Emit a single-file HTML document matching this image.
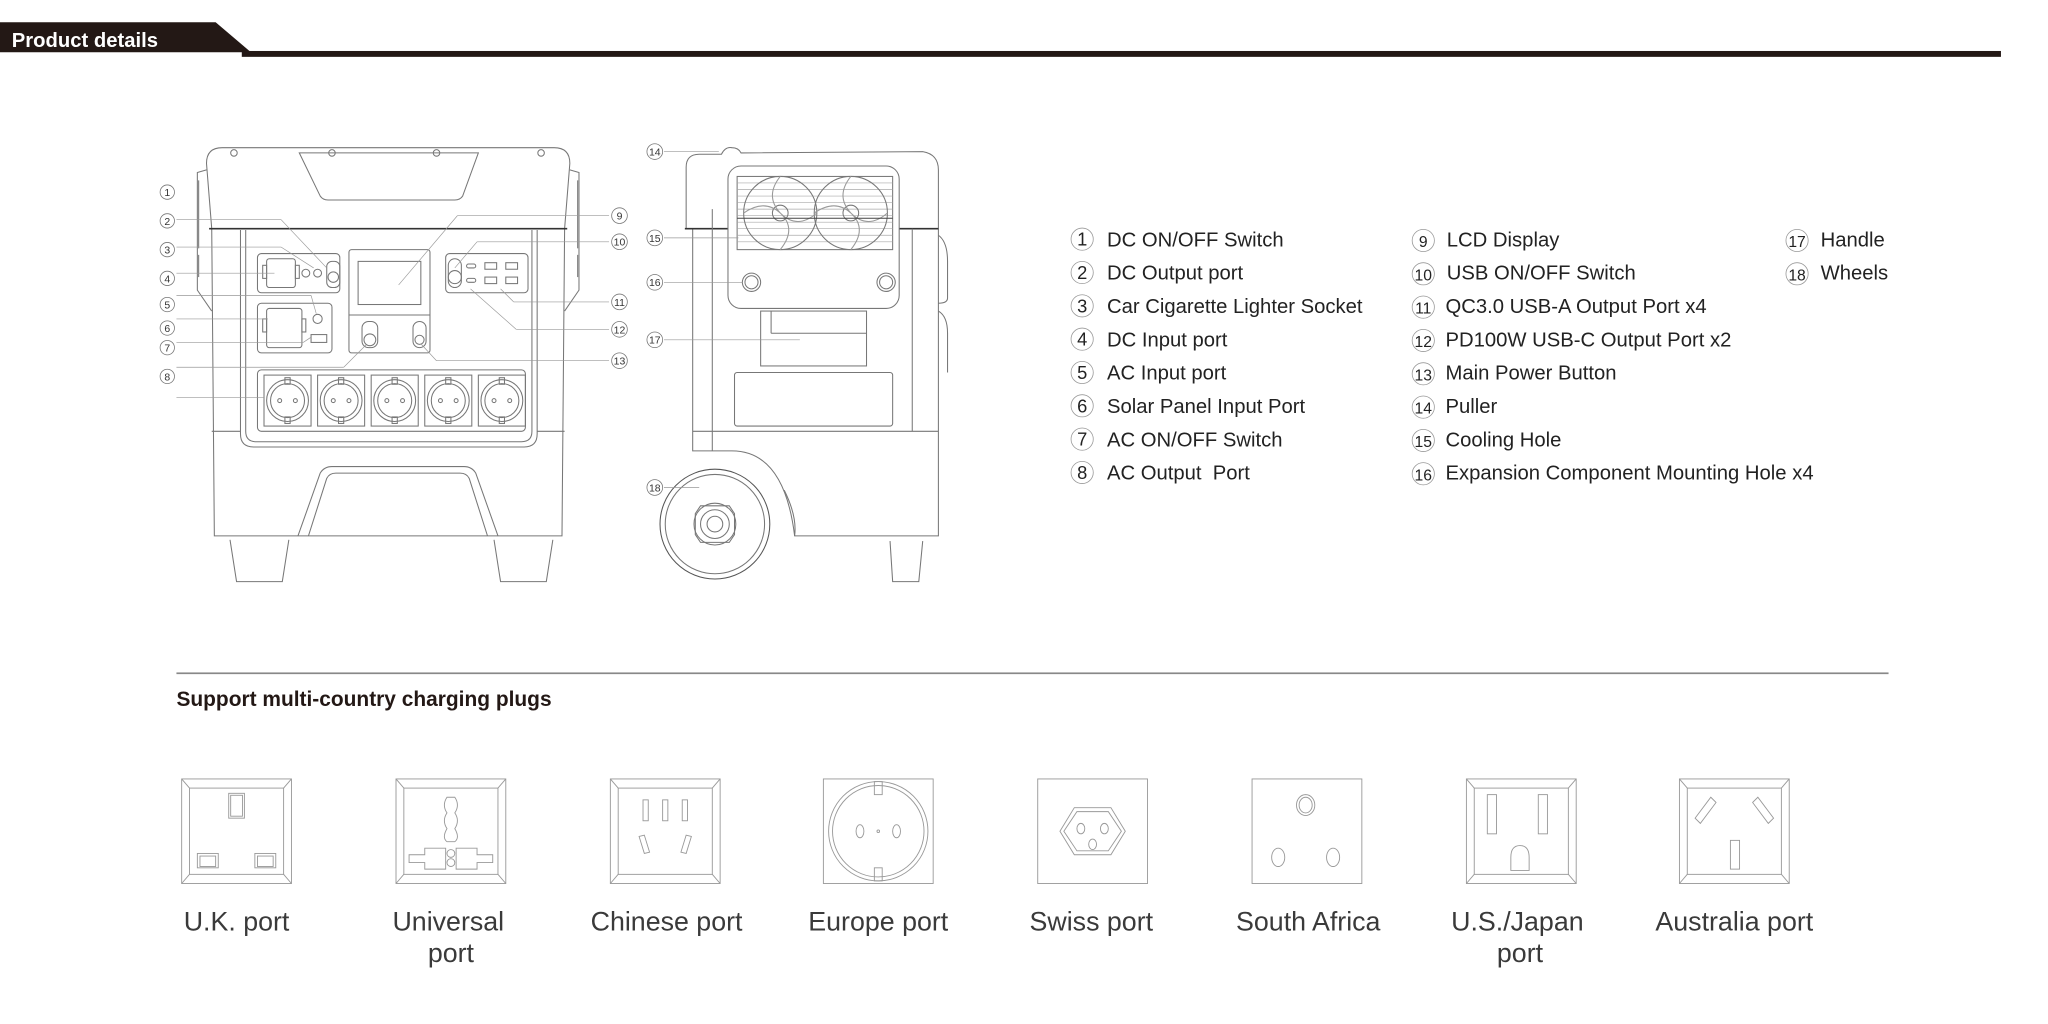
<!DOCTYPE html>
<html><head><meta charset="utf-8"><style>
html,body{margin:0;padding:0;background:#fff;}
svg{display:block;}
text{font-family:"Liberation Sans",sans-serif;}
</style></head><body>
<svg width="2048" height="1024" viewBox="0 0 1567 783.5" preserveAspectRatio="none" xmlns="http://www.w3.org/2000/svg">
<rect width="1567" height="784" fill="#fff"/>
<!-- header -->
<polygon points="0,17 165,17 192,40 0,40" fill="#231815"/>
<rect x="185" y="39" width="1346" height="4.5" fill="#231815"/>
<text x="9" y="36" font-size="15.5" font-weight="bold" fill="#fff">Product details</text>

<!-- FRONT VIEW -->
<g fill="none" stroke="#777" stroke-width="0.8">
  <path d="M162,175 L158,125 Q158,113 170,113 L424,113 Q436,113 436,125 L432,175 Z"/>
  <path d="M229,117 L366,117 L354,150 Q352,153 348,153 L251,153 Q247,153 245,150 Z"/>
  <circle cx="179" cy="117" r="2.5"/><circle cx="254" cy="117" r="2.5"/><circle cx="334" cy="117" r="2.5"/><circle cx="414" cy="117" r="2.5"/>
  <path d="M158,130 L151,132 L151,222 L162,238"/><line x1="152" y1="138" x2="152" y2="190"/>
  <path d="M436,130 L443,132 L443,222 L432,238"/><line x1="442" y1="138" x2="442" y2="190"/>
  <line x1="152" y1="195" x2="152" y2="212"/><line x1="442" y1="195" x2="442" y2="212"/>
  <path d="M162,175 L164,410 L430,410 L432,175"/>
  <line x1="160" y1="175" x2="434" y2="175" stroke="#333" stroke-width="1.2"/>
  <line x1="162" y1="330" x2="184" y2="330"/><line x1="411" y1="330" x2="432" y2="330"/>
  <path d="M184,176 L184,332 Q184,342 194,342 L401,342 Q411,342 411,332 L411,176"/>
  <path d="M188,176 L188,330 Q188,338 196,338 L399,338 Q407,338 407,330 L407,176"/>
  <path d="M228,410 L245,362 Q248,357 254,357 L355,357 Q361,357 364,362 L381,410"/>
  <path d="M236,410 L250,366 Q252,362 257,362 L352,362 Q357,362 359,366 L373,410"/>
  <path d="M176,413 L181,445 L216,445 L221,413"/>
  <path d="M378,413 L383,445 L418,445 L423,413"/>
  <rect x="197" y="194" width="63" height="30" rx="3"/>
  <rect x="204" y="198" width="22" height="22" rx="2"/><rect x="201" y="203" width="3" height="10"/><rect x="226" y="203" width="3" height="10"/>
  <circle cx="234" cy="209" r="3"/><circle cx="243" cy="209" r="3"/>
  <rect x="250" y="200" width="10" height="20" rx="4"/><circle cx="255" cy="212" r="4"/>
  <rect x="197" y="232" width="57" height="38" rx="3"/>
  <rect x="204" y="236" width="27" height="30" rx="2"/><rect x="201" y="244" width="3" height="10"/><rect x="231" y="244" width="3" height="10"/>
  <circle cx="243" cy="244" r="3.5"/><rect x="238" y="256" width="12" height="6"/>
  <rect x="267" y="191" width="62" height="79" rx="2"/>
  <line x1="267" y1="241" x2="329" y2="241"/>
  <rect x="274" y="200" width="48" height="33"/>
  <rect x="277" y="246" width="12" height="20" rx="5"/><circle cx="283" cy="260" r="4.5"/>
  <rect x="316" y="246" width="10" height="20" rx="5"/><circle cx="321" cy="260" r="3.5"/>
  <rect x="341" y="194" width="63" height="30" rx="3"/>
  <rect x="343" y="198" width="10" height="22" rx="5"/><circle cx="348" cy="212" r="5"/>
  <rect x="357" y="202" width="7" height="3" rx="1.5"/><rect x="357" y="213" width="7" height="3" rx="1.5"/>
  <rect x="371" y="201" width="9" height="5"/><rect x="387" y="201" width="9" height="5"/>
  <rect x="371" y="212" width="9" height="5"/><rect x="387" y="212" width="9" height="5"/>
  <rect x="197" y="283" width="205" height="47" rx="3"/>
  <g id="sk"><rect x="202" y="287" width="36" height="39"/><circle cx="220" cy="306.5" r="16"/><circle cx="220" cy="306.5" r="13"/><circle cx="214" cy="306.5" r="1.5"/><circle cx="226" cy="306.5" r="1.5"/><rect x="218" y="289" width="4" height="5"/><rect x="218" y="319" width="4" height="5"/></g>
  <use href="#sk" x="41"/><use href="#sk" x="82"/><use href="#sk" x="123"/><use href="#sk" x="164"/>
</g>
<g fill="none" stroke="#999" stroke-width="0.5">
  <line x1="135" y1="168" x2="215" y2="168"/><line x1="215" y1="168" x2="250" y2="205"/>
  <line x1="135" y1="189" x2="215" y2="189"/><line x1="215" y1="189" x2="240" y2="205"/>
  <line x1="135" y1="209" x2="210" y2="209"/>
  <line x1="135" y1="226" x2="238" y2="226"/><line x1="238" y1="226" x2="242" y2="240"/>
  <line x1="135" y1="244" x2="205" y2="244"/>
  <line x1="135" y1="262" x2="232" y2="262"/><line x1="232" y1="262" x2="238" y2="258"/>
  <line x1="135" y1="281" x2="263" y2="281"/><line x1="263" y1="281" x2="280" y2="264"/>
  <line x1="135" y1="304" x2="202" y2="304"/>
  <line x1="466" y1="165" x2="350" y2="165"/><line x1="350" y1="165" x2="305" y2="218"/>
  <line x1="466" y1="185" x2="365" y2="185"/><line x1="365" y1="185" x2="348" y2="205"/>
  <line x1="466" y1="231" x2="393" y2="231"/><line x1="393" y1="231" x2="383" y2="221"/>
  <line x1="466" y1="252" x2="395" y2="252"/><line x1="395" y1="252" x2="360" y2="221"/>
  <line x1="466" y1="276" x2="334" y2="276"/><line x1="334" y1="276" x2="322" y2="263"/>
</g>
<g font-size="8" fill="#333" text-anchor="middle">
  <g fill="none" stroke="#777" stroke-width="0.6">
    <circle cx="128" cy="147" r="5.5"/><circle cx="128" cy="169" r="5.5"/><circle cx="128" cy="191" r="5.5"/><circle cx="128" cy="213" r="5.5"/><circle cx="128" cy="233" r="5.5"/><circle cx="128" cy="251" r="5.5"/><circle cx="128" cy="266" r="5.5"/><circle cx="128" cy="288" r="5.5"/>
    <circle cx="474" cy="165" r="6"/><circle cx="474" cy="185" r="6"/><circle cx="474" cy="231" r="6"/><circle cx="474" cy="252" r="6"/><circle cx="474" cy="276" r="6"/>
    <circle cx="501" cy="116" r="6"/><circle cx="501" cy="182" r="6"/><circle cx="501" cy="216" r="6"/><circle cx="501" cy="260" r="6"/><circle cx="501" cy="373" r="6"/>
  </g>
  <text x="128" y="150">1</text><text x="128" y="172">2</text><text x="128" y="194">3</text><text x="128" y="216">4</text><text x="128" y="236">5</text><text x="128" y="254">6</text><text x="128" y="269">7</text><text x="128" y="291">8</text>
  <text x="474" y="168">9</text><text x="474" y="188">10</text><text x="474" y="234">11</text><text x="474" y="255">12</text><text x="474" y="279">13</text>
  <text x="501" y="119">14</text><text x="501" y="185">15</text><text x="501" y="219">16</text><text x="501" y="263">17</text><text x="501" y="376">18</text>
</g>

<!-- SIDE VIEW -->
<g fill="none" stroke="#777" stroke-width="0.8">
  <path d="M525,175 L525,128 Q525,118 535,118 L552,118 Q555,112 560,113 Q565,113 567,117 L706,116 Q718,118 718,130 L718,410 L608,410 Q600,345 560,345 L530,345 L530,175"/>
  <line x1="524" y1="175" x2="557" y2="175" stroke="#333" stroke-width="1.2"/>
  <line x1="688" y1="175" x2="718" y2="175" stroke="#333" stroke-width="1.2"/>
  <line x1="698" y1="175" x2="698" y2="330"/><line x1="530" y1="330" x2="718" y2="330"/>
  <line x1="545" y1="160" x2="545" y2="345"/>
  <path d="M718,180 Q725,185 725,200 L725,228 Q725,232 718,232"/>
  <path d="M718,238 Q725,242 725,255 L725,285"/>
  <rect x="557" y="127" width="131" height="109" rx="10"/>
  <rect x="564" y="135" width="119" height="56"/>
  <g stroke="#aaa" stroke-width="0.5">
    <line x1="564" y1="140" x2="683" y2="140"/><line x1="564" y1="145" x2="683" y2="145"/><line x1="564" y1="150" x2="683" y2="150"/><line x1="564" y1="155" x2="683" y2="155"/><line x1="564" y1="160" x2="683" y2="160"/><line x1="564" y1="165" x2="683" y2="165"/><line x1="564" y1="170" x2="683" y2="170"/><line x1="564" y1="175" x2="683" y2="175"/><line x1="564" y1="180" x2="683" y2="180"/><line x1="564" y1="185" x2="683" y2="185"/>
  </g>
  <circle cx="597" cy="163" r="28"/><circle cx="651" cy="163" r="28"/>
  <circle cx="597" cy="163" r="6"/><circle cx="651" cy="163" r="6"/>
  <path d="M597,135 Q585,150 597,163 Q610,175 597,191 M569,163 Q585,152 597,163 Q610,176 625,163" stroke="#999"/>
  <path d="M651,135 Q639,150 651,163 Q664,175 651,191 M623,163 Q639,152 651,163 Q664,176 679,163" stroke="#999"/>
  <line x1="564" y1="167" x2="683" y2="167" stroke="#444"/>
  <circle cx="575" cy="216" r="7"/><circle cx="575" cy="216" r="5"/>
  <circle cx="678" cy="216" r="7"/><circle cx="678" cy="216" r="5"/>
  <rect x="582" y="238" width="81" height="42"/><line x1="590" y1="238" x2="590" y2="255"/><line x1="590" y1="255" x2="663" y2="255"/>
  <rect x="562" y="285" width="121" height="41" rx="2"/>
  <path d="M608,410 Q610,395 600,375"/>
  <circle cx="547" cy="401" r="38"/><circle cx="547" cy="401" r="42" stroke="#555"/>
  <circle cx="547" cy="401" r="16"/><circle cx="547" cy="401" r="11"/><circle cx="547" cy="401" r="6"/>
  <path d="M536,387 L558,387 L562,393 L562,409 L558,415 L536,415 L532,409 L532,393 Z"/>
  <path d="M681,414 L683,445 L703,445 L706,414"/>
</g>
<g fill="none" stroke="#999" stroke-width="0.5">
  <line x1="508" y1="116" x2="550" y2="116"/><line x1="508" y1="182" x2="565" y2="182"/><line x1="508" y1="216" x2="568" y2="216"/><line x1="508" y1="260" x2="612" y2="260"/><line x1="508" y1="373" x2="535" y2="373"/>
</g>

<!-- LEGEND -->
<g font-size="15.5" fill="#222">
  <g fill="none" stroke="#999" stroke-width="0.6">
    <circle cx="828" cy="183" r="8.5"/><circle cx="828" cy="208.5" r="8.5"/><circle cx="828" cy="234" r="8.5"/><circle cx="828" cy="259.5" r="8.5"/><circle cx="828" cy="285" r="8.5"/><circle cx="828" cy="310.5" r="8.5"/><circle cx="828" cy="336" r="8.5"/><circle cx="828" cy="361.5" r="8.5"/>
    <circle cx="1089" cy="184" r="8.5"/><circle cx="1089" cy="209.5" r="8.5"/><circle cx="1089" cy="235" r="8.5"/><circle cx="1089" cy="260.5" r="8.5"/><circle cx="1089" cy="286" r="8.5"/><circle cx="1089" cy="311.5" r="8.5"/><circle cx="1089" cy="337" r="8.5"/><circle cx="1089" cy="362.5" r="8.5"/>
    <circle cx="1375" cy="184" r="8.5"/><circle cx="1375" cy="209.5" r="8.5"/>
  </g>
  <g text-anchor="middle" font-size="14">
    <text x="828" y="188">1</text><text x="828" y="213.5">2</text><text x="828" y="239">3</text><text x="828" y="264.5">4</text><text x="828" y="290">5</text><text x="828" y="315.5">6</text><text x="828" y="341">7</text><text x="828" y="366.5">8</text>
  </g>
  <g text-anchor="middle" font-size="12">
    <text x="1089" y="189">9</text><text x="1089" y="214.5">10</text><text x="1089" y="240">11</text><text x="1089" y="265.5">12</text><text x="1089" y="291">13</text><text x="1089" y="316.5">14</text><text x="1089" y="342">15</text><text x="1089" y="367.5">16</text>
    <text x="1375" y="189">17</text><text x="1375" y="214.5">18</text>
  </g>
  <text x="847" y="188.5">DC ON/OFF Switch</text>
  <text x="847" y="214">DC Output port</text>
  <text x="847" y="239.5">Car Cigarette Lighter Socket</text>
  <text x="847" y="265">DC Input port</text>
  <text x="847" y="290.5">AC Input port</text>
  <text x="847" y="316">Solar Panel Input Port</text>
  <text x="847" y="341.5">AC ON/OFF Switch</text>
  <text x="847" y="367" xml:space="preserve">AC Output  Port</text>
  <text x="1107" y="188.5">LCD Display</text>
  <text x="1107" y="214">USB ON/OFF Switch</text>
  <text x="1106" y="239.5">QC3.0 USB-A Output Port x4</text>
  <text x="1106" y="265">PD100W USB-C Output Port x2</text>
  <text x="1106" y="290.5">Main Power Button</text>
  <text x="1106" y="316">Puller</text>
  <text x="1106" y="341.5">Cooling Hole</text>
  <text x="1106" y="367">Expansion Component Mounting Hole x4</text>
  <text x="1393" y="188.5">Handle</text>
  <text x="1393" y="214">Wheels</text>
</g>

<!-- BOTTOM SECTION -->
<rect x="135" y="514.5" width="1310" height="1.3" fill="#888"/>
<text x="135" y="540" font-size="16" font-weight="bold" fill="#231815">Support multi-country charging plugs</text>

<g fill="none" stroke="#999" stroke-width="0.7">
  <g transform="translate(139,596)">
    <rect width="84" height="80"/><rect x="6" y="7" width="72" height="66"/>
    <line x1="0" y1="0" x2="6" y2="7"/><line x1="84" y1="0" x2="78" y2="7"/><line x1="0" y1="80" x2="6" y2="73"/><line x1="84" y1="80" x2="78" y2="73"/>
    <rect x="36" y="11" width="12" height="19"/><rect x="37.5" y="12.5" width="9" height="16"/>
    <rect x="12" y="57" width="16" height="11"/><rect x="14" y="59" width="12" height="8"/>
    <rect x="56" y="57" width="16" height="11"/><rect x="58" y="59" width="12" height="8"/>
  </g>
  <g transform="translate(303,596)">
    <rect width="84" height="80"/><rect x="6" y="7" width="72" height="66"/>
    <line x1="0" y1="0" x2="6" y2="7"/><line x1="84" y1="0" x2="78" y2="7"/><line x1="0" y1="80" x2="6" y2="73"/><line x1="84" y1="80" x2="78" y2="73"/>
    <path d="M39,14 L45,14 Q49,20 45,26 Q49,32 45,38 Q49,45 45,48 L39,48 Q35,45 39,38 Q35,32 39,26 Q35,20 39,14 Z"/>
    <path d="M10,58 L10,64 L22,64 L22,69 L38,69 L38,53 L22,53 L22,58 Z"/>
    <path d="M74,58 L74,64 L62,64 L62,69 L46,69 L46,53 L62,53 L62,58 Z"/>
    <circle cx="42" cy="57" r="3"/><circle cx="42" cy="64" r="3"/>
  </g>
  <g transform="translate(467,596)">
    <rect width="84" height="80"/><rect x="6" y="7" width="72" height="66"/>
    <line x1="0" y1="0" x2="6" y2="7"/><line x1="84" y1="0" x2="78" y2="7"/><line x1="0" y1="80" x2="6" y2="73"/><line x1="84" y1="80" x2="78" y2="73"/>
    <rect x="25" y="16" width="4" height="16"/><rect x="40" y="16" width="4" height="16"/><rect x="55" y="16" width="4" height="16"/>
    <path d="M22,44 L26,43 L30,56 L26,57 Z"/><path d="M62,44 L58,43 L54,56 L58,57 Z"/>
  </g>
  <g transform="translate(630,596)">
    <rect width="84" height="80"/>
    <circle cx="42" cy="40" r="38"/><circle cx="42" cy="40" r="35"/>
    <rect x="39" y="2" width="6" height="10"/><rect x="39" y="68" width="6" height="10"/>
    <ellipse cx="28" cy="40" rx="3" ry="5"/><ellipse cx="56" cy="40" rx="3" ry="5"/><circle cx="42" cy="40" r="1"/>
  </g>
  <g transform="translate(794,596)">
    <rect width="84" height="80"/>
    <path d="M28,22 L56,22 L67,40 L56,58 L28,58 L17,40 Z"/><path d="M30,25 L54,25 L64,40 L54,55 L30,55 L20,40 Z"/>
    <ellipse cx="33" cy="38" rx="3" ry="4"/><ellipse cx="51" cy="38" rx="3" ry="4"/><ellipse cx="42" cy="50" rx="3" ry="4"/>
  </g>
  <g transform="translate(958,596)">
    <rect width="84" height="80"/>
    <ellipse cx="41" cy="20" rx="7" ry="8"/><ellipse cx="41" cy="20" rx="5" ry="6"/>
    <ellipse cx="20" cy="60" rx="5" ry="7"/><ellipse cx="62" cy="60" rx="5" ry="7"/>
  </g>
  <g transform="translate(1122,596)">
    <rect width="84" height="80"/><rect x="6" y="7" width="72" height="66"/>
    <line x1="0" y1="0" x2="6" y2="7"/><line x1="84" y1="0" x2="78" y2="7"/><line x1="0" y1="80" x2="6" y2="73"/><line x1="84" y1="80" x2="78" y2="73"/>
    <rect x="16" y="12" width="7" height="30"/><rect x="55" y="12" width="7" height="30"/>
    <path d="M34,70 L34,60 Q34,51 41,51 Q48,51 48,60 L48,70 Z"/>
  </g>
  <g transform="translate(1285,596)">
    <rect width="84" height="80"/><rect x="6" y="7" width="72" height="66"/>
    <line x1="0" y1="0" x2="6" y2="7"/><line x1="84" y1="0" x2="78" y2="7"/><line x1="0" y1="80" x2="6" y2="73"/><line x1="84" y1="80" x2="78" y2="73"/>
    <path d="M12,30 L24,14 L28,18 L16,34 Z"/><path d="M72,30 L60,14 L56,18 L68,34 Z"/>
    <rect x="39" y="47" width="7" height="22"/>
  </g>
</g>

<g font-size="20.5" fill="#3a3a3a" text-anchor="middle">
  <text x="181" y="712">U.K. port</text>
  <text x="343" y="712">Universal</text><text x="345" y="736">port</text>
  <text x="510" y="712">Chinese port</text>
  <text x="672" y="712">Europe port</text>
  <text x="835" y="712">Swiss port</text>
  <text x="1001" y="712">South Africa</text>
  <text x="1161" y="712">U.S./Japan</text><text x="1163" y="736">port</text>
  <text x="1327" y="712">Australia port</text>
</g>
</svg>
</body></html>
